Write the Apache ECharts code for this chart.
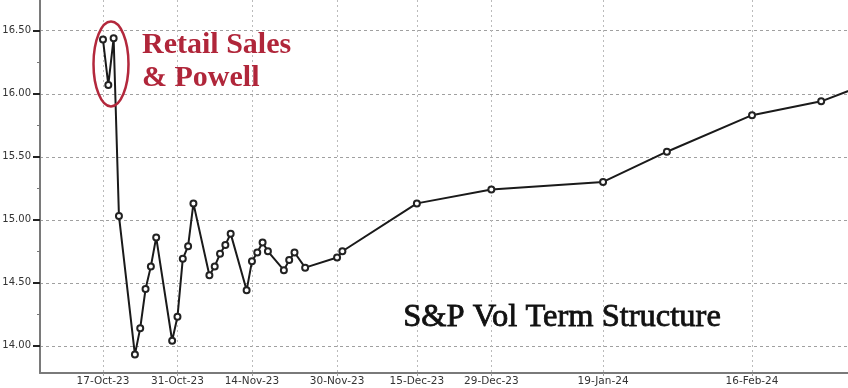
<!DOCTYPE html>
<html>
<head>
<meta charset="utf-8">
<script src="https://cdn.jsdelivr.net/npm/echarts@6/dist/echarts.min.js"></script>
<style>
html,body{margin:0;padding:0;background:#fff;}
#chart{width:848px;height:388px;}
</style>
</head>
<body>
<div id="chart"></div>
<script>
// ---- data ----
var dates = ['2023-10-17','2023-10-18','2023-10-19','2023-10-20','2023-10-23','2023-10-24','2023-10-25','2023-10-26','2023-10-27','2023-10-30','2023-10-31','2023-11-01','2023-11-02','2023-11-03','2023-11-06','2023-11-07','2023-11-08','2023-11-09','2023-11-10','2023-11-13','2023-11-14','2023-11-15','2023-11-16','2023-11-17','2023-11-20','2023-11-21','2023-11-22','2023-11-24','2023-11-30','2023-12-01','2023-12-15','2023-12-29','2024-01-19','2024-01-31','2024-02-16','2024-02-29','2024-03-15'];
var values = [16.43,16.07,16.44,15.03,13.93,14.14,14.45,14.63,14.86,14.04,14.23,14.69,14.79,15.13,14.56,14.63,14.73,14.80,14.89,14.44,14.67,14.74,14.82,14.75,14.60,14.68,14.74,14.62,14.70,14.75,15.13,15.24,15.30,15.54,15.83,15.94,16.18];
var xTickDates = ['2023-10-17','2023-10-31','2023-11-14','2023-11-30','2023-12-15','2023-12-29','2024-01-19','2024-02-16'];
var yTickValues = [14.00,14.50,15.00,15.50,16.00,16.50];
var yMinorTicks = [14.25,14.75,15.25,15.75,16.25];
var annotationLabel = ['Retail Sales','& Powell'];
var chartTitle = 'S&P Vol Term Structure';

var MONTHS = ['Jan','Feb','Mar','Apr','May','Jun','Jul','Aug','Sep','Oct','Nov','Dec'];
function parseDate(s){var p=s.split('-');return Date.UTC(+p[0],+p[1]-1,+p[2]);}
function fmtDate(t){var d=new Date(Math.round(t));var dd=d.getUTCDate();return (dd<10?'0':'')+dd+'-'+MONTHS[d.getUTCMonth()]+'-'+String(d.getUTCFullYear()).slice(2);}

var seriesData = dates.map(function(d,i){return [parseDate(d), values[i]];});
var DAY = 86400000;
var xMin = parseDate('2023-10-17') - 11.84*DAY;
var xMax = parseDate('2023-10-17') + 140.04*DAY;
var xTicks = xTickDates.map(parseDate);

var chart = echarts.init(document.getElementById('chart'), null, {renderer:'canvas'});
var labelFont = 'DejaVu Sans';
chart.setOption({
  backgroundColor:'#ffffff',
  animation:false,
  grid:{left:40,right:0,top:0,bottom:15,containLabel:false,outerBoundsMode:'none'},
  xAxis:{
    type:'value',
    min:xMin,max:xMax,
    axisLine:{show:true,lineStyle:{color:'#7a7a7a',width:2}},
    axisTick:{show:true,length:3,customValues:xTicks,lineStyle:{color:'#999'}},
    axisLabel:{customValues:xTicks,formatter:function(v){return fmtDate(v);},color:'#333',fontFamily:labelFont,fontSize:10.5,margin:3,hideOverlap:false,showMinLabel:true,showMaxLabel:true},
    splitLine:{show:true,lineStyle:{color:'#bbbbbb',type:[2,3],width:1}}
  },
  yAxis:[{
    type:'value',
    min:13.784,max:16.744,
    axisLine:{show:true,lineStyle:{color:'#7a7a7a',width:2}},
    axisTick:{show:true,length:7,customValues:yTickValues,lineStyle:{color:'#222',width:2}},
    axisLabel:{customValues:yTickValues,formatter:function(v){return v.toFixed(2);},color:'#333',fontFamily:labelFont,fontSize:10,margin:9},
    splitLine:{show:true,lineStyle:{color:'#a0a0a0',type:[3,3],width:1}}
  },{
    type:'value',position:'left',
    min:13.784,max:16.744,
    axisLine:{show:false},
    axisTick:{show:true,length:3,customValues:yMinorTicks,lineStyle:{color:'#777',width:1}},
    axisLabel:{show:false},
    splitLine:{show:false}
  }],
  series:[{
    type:'line',
    data:seriesData,
    yAxisIndex:0,
    symbol:'emptyCircle',
    symbolSize:6,
    showAllSymbol:true,
    clip:true,
    lineStyle:{color:'#1a1a1a',width:2},
    itemStyle:{color:'#222',borderWidth:1.3},
    z:5
  }],
  graphic:[
    {type:'ellipse',shape:{cx:111,cy:64,rx:17.5,ry:42.5},style:{fill:'none',stroke:'#b3283c',lineWidth:2.5},z:10},
    {type:'text',x:142,y:45,style:{text:annotationLabel[0],fill:'#b0263a',font:'bold 30px "Liberation Serif"',textAlign:'left',textVerticalAlign:'middle'},z:10},
    {type:'text',x:142,y:78,style:{text:annotationLabel[1],fill:'#b0263a',font:'bold 30px "Liberation Serif"',textAlign:'left',textVerticalAlign:'middle'},z:10},
    {type:'text',x:562,y:317,style:{text:chartTitle,fill:'#111',font:'32.5px "Liberation Serif"',textAlign:'center',textVerticalAlign:'middle',stroke:'#111',lineWidth:0.8},z:10}
  ]
});
</script>
</body>
</html>
